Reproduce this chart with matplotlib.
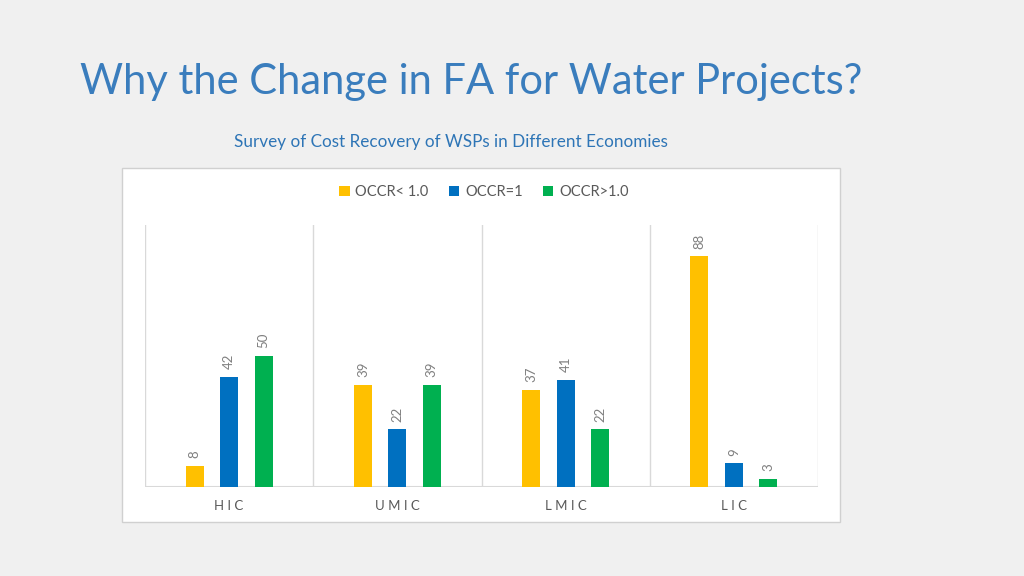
import matplotlib.pyplot as plt
from matplotlib.patches import Rectangle
import numpy as np

# data
groups = ['HIC', 'UMIC', 'LMIC', 'LIC']
series = ['OCCR< 1.0', 'OCCR=1', 'OCCR>1.0']
occr_below = [8, 39, 37, 88]
occr_equal = [42, 22, 41, 9]
occr_above = [50, 39, 22, 3]

colors = ['#FFC000', '#0070C0', '#00B050']
BG = '#F0F0F0'
BLUE_TXT = '#2E75B6'
GRAY = '#7F7F7F'

plt.rcParams['font.family'] = ['Lato', 'DejaVu Sans']

fig = plt.figure(figsize=(10.24, 5.76), dpi=100)
fig.patch.set_facecolor(BG)

# white chart panel
W, H = 1024, 576
panel = Rectangle((122 / W, 1 - 522 / H), (840 - 122) / W, (522 - 168) / H,
                  transform=fig.transFigure, facecolor='white',
                  edgecolor='#D0D0D0', linewidth=1, zorder=-5)
fig.patches.append(panel)

fig.text(80 / W, 1 - 82 / H, 'Why the Change in FA for Water Projects?',
         fontsize=30, color='#3A7DBD', va='center', ha='left')
fig.text(451 / W, 1 - 142 / H, 'Survey of Cost Recovery of WSPs in Different Economies',
         fontsize=12.3, color=BLUE_TXT, va='center', ha='center')

ax = fig.add_axes([145 / W, 1 - 487 / H, 673 / W, 262 / H])
ax.set_facecolor('none')
ax.set_zorder(2)

x = np.arange(len(groups)) + 0.5
off = 0.205
bw = 0.107
all_vals = [occr_below, occr_equal, occr_above]
for i, (vals, c, name) in enumerate(zip(all_vals, colors, series)):
    bars = ax.bar(x + (i - 1) * off, vals, width=bw, color=c, label=name, zorder=3)
    for b, v in zip(bars, vals):
        ax.text(b.get_x() + b.get_width() / 2, v + 3, str(v), rotation=90,
                ha='center', va='bottom', fontsize=9.5, color=GRAY)

ax.set_xlim(0, 4)
ax.set_ylim(0, 100)
for xs in range(5):
    ax.axvline(xs, color='#D9D9D9', linewidth=1, zorder=1)
ax.axhline(0, color='#D9D9D9', linewidth=1.5, zorder=2)

for s in ax.spines.values():
    s.set_visible(False)
ax.set_yticks([])
ax.set_xticks(x)
ax.set_xticklabels([' '.join(g) for g in groups], fontsize=9.5, color='#595959')
ax.tick_params(axis='x', length=0, pad=9)

leg = fig.legend(loc='center', bbox_to_anchor=(484 / W, 1 - 192 / H), ncol=3,
                 frameon=False, fontsize=10.5, handlelength=0.7, handleheight=0.7,
                 columnspacing=1.4, handletextpad=0.4, labelcolor='#595959')

fig.savefig('out.png', dpi=100, facecolor=BG)
